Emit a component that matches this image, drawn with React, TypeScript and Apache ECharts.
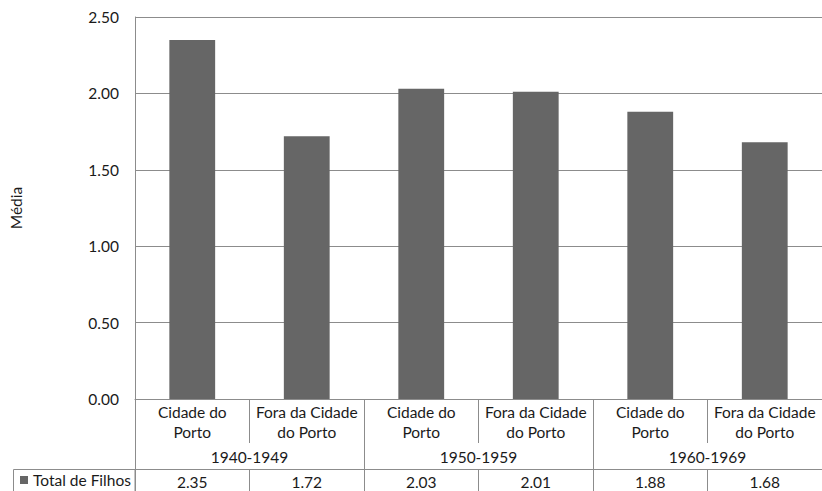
import React, { useEffect, useRef } from "react";
import * as echarts from "echarts";

const categories = [
  "Cidade do\nPorto",
  "Fora da Cidade\ndo Porto",
  "Cidade do\nPorto",
  "Fora da Cidade\ndo Porto",
  "Cidade do\nPorto",
  "Fora da Cidade\ndo Porto",
];
const groups = ["1940-1949", "1950-1959", "1960-1969"];
const seriesName = "Total de Filhos";
const values = [2.35, 1.72, 2.03, 2.01, 1.88, 1.68];
const yTicks = [0, 0.5, 1.0, 1.5, 2.0, 2.5];

const FONT = "Lato";
const LINE = "#8c8c8c";
const TXT = "#1a1a1a";

export default function App() {
  const ref = useRef<HTMLDivElement>(null);
  useEffect(() => {
    if (!ref.current) return;
    const chart = echarts.init(ref.current, undefined, { renderer: "svg" });
    const fs = 15.5;
    chart.setOption({
      animation: false,
      textStyle: { fontFamily: FONT },
      legend: {
        data: [seriesName],
        left: 20,
        top: 471,
        icon: "rect",
        itemWidth: 8,
        itemHeight: 8,
        itemGap: 0,
        padding: 0,
        textStyle: { fontFamily: FONT, fontSize: fs, color: TXT, lineHeight: 18 },
      },
      grid: { left: 135, top: 17, width: 698, height: 382 },
      yAxis: {
        type: "value",
        min: yTicks[0],
        max: yTicks[yTicks.length - 1],
        interval: 0.5,
        name: "Média",
        nameLocation: "middle",
        nameGap: 111,
        nameTextStyle: { fontFamily: FONT, fontSize: fs, color: TXT },
        axisLine: { show: true, lineStyle: { color: LINE } },
        axisTick: { show: false },
        axisLabel: {
          margin: 16,
          fontFamily: FONT,
          fontSize: fs,
          color: TXT,
          formatter: (v: number) => v.toFixed(2),
        },
        splitLine: { show: true, lineStyle: { color: LINE } },
      },
      xAxis: [
        {
          type: "category",
          data: categories,
          gridIndex: 0,
          axisLine: { show: true, lineStyle: { color: LINE } },
          axisTick: { show: true, length: 44, lineStyle: { color: LINE } },
          axisLabel: {
            margin: 3,
            interval: 0,
            fontFamily: FONT,
            fontSize: fs,
            color: TXT,
            lineHeight: 20,
          },
        },
        {
          type: "category",
          data: groups,
          gridIndex: 0,
          position: "bottom",
          axisLine: { show: false },
          axisTick: { show: true, length: 92, lineStyle: { color: LINE } },
          axisLabel: {
            margin: 50,
            interval: 0,
            fontFamily: FONT,
            fontSize: fs,
            color: TXT,
            lineHeight: 16,
          },
        },
        {
          type: "category",
          data: values.map((v) => v.toFixed(2)),
          gridIndex: 0,
          position: "bottom",
          offset: 70,
          axisLine: { show: true, lineStyle: { color: LINE } },
          axisTick: { show: true, length: 22, lineStyle: { color: LINE } },
          axisLabel: {
            margin: 5,
            interval: 0,
            fontFamily: FONT,
            fontSize: fs,
            color: TXT,
            lineHeight: 16,
          },
        },
      ],
      graphic: [
        {
          type: "rect",
          shape: { x: 13.5, y: 469.5, width: 121.5, height: 40 },
          style: { fill: "none", stroke: LINE, lineWidth: 1 },
          silent: true,
        },
      ],
      series: [
        {
          name: seriesName,
          type: "bar",
          xAxisIndex: 0,
          yAxisIndex: 0,
          data: values,
          barWidth: "40%",
          itemStyle: { color: "#666666" },
        },
      ],
    });
    return () => chart.dispose();
  }, []);
  return (
    <div
      ref={ref}
      style={{ position: "fixed", left: 0, top: 0, width: 822, height: 491, background: "#fff" }}
    />
  );
}
